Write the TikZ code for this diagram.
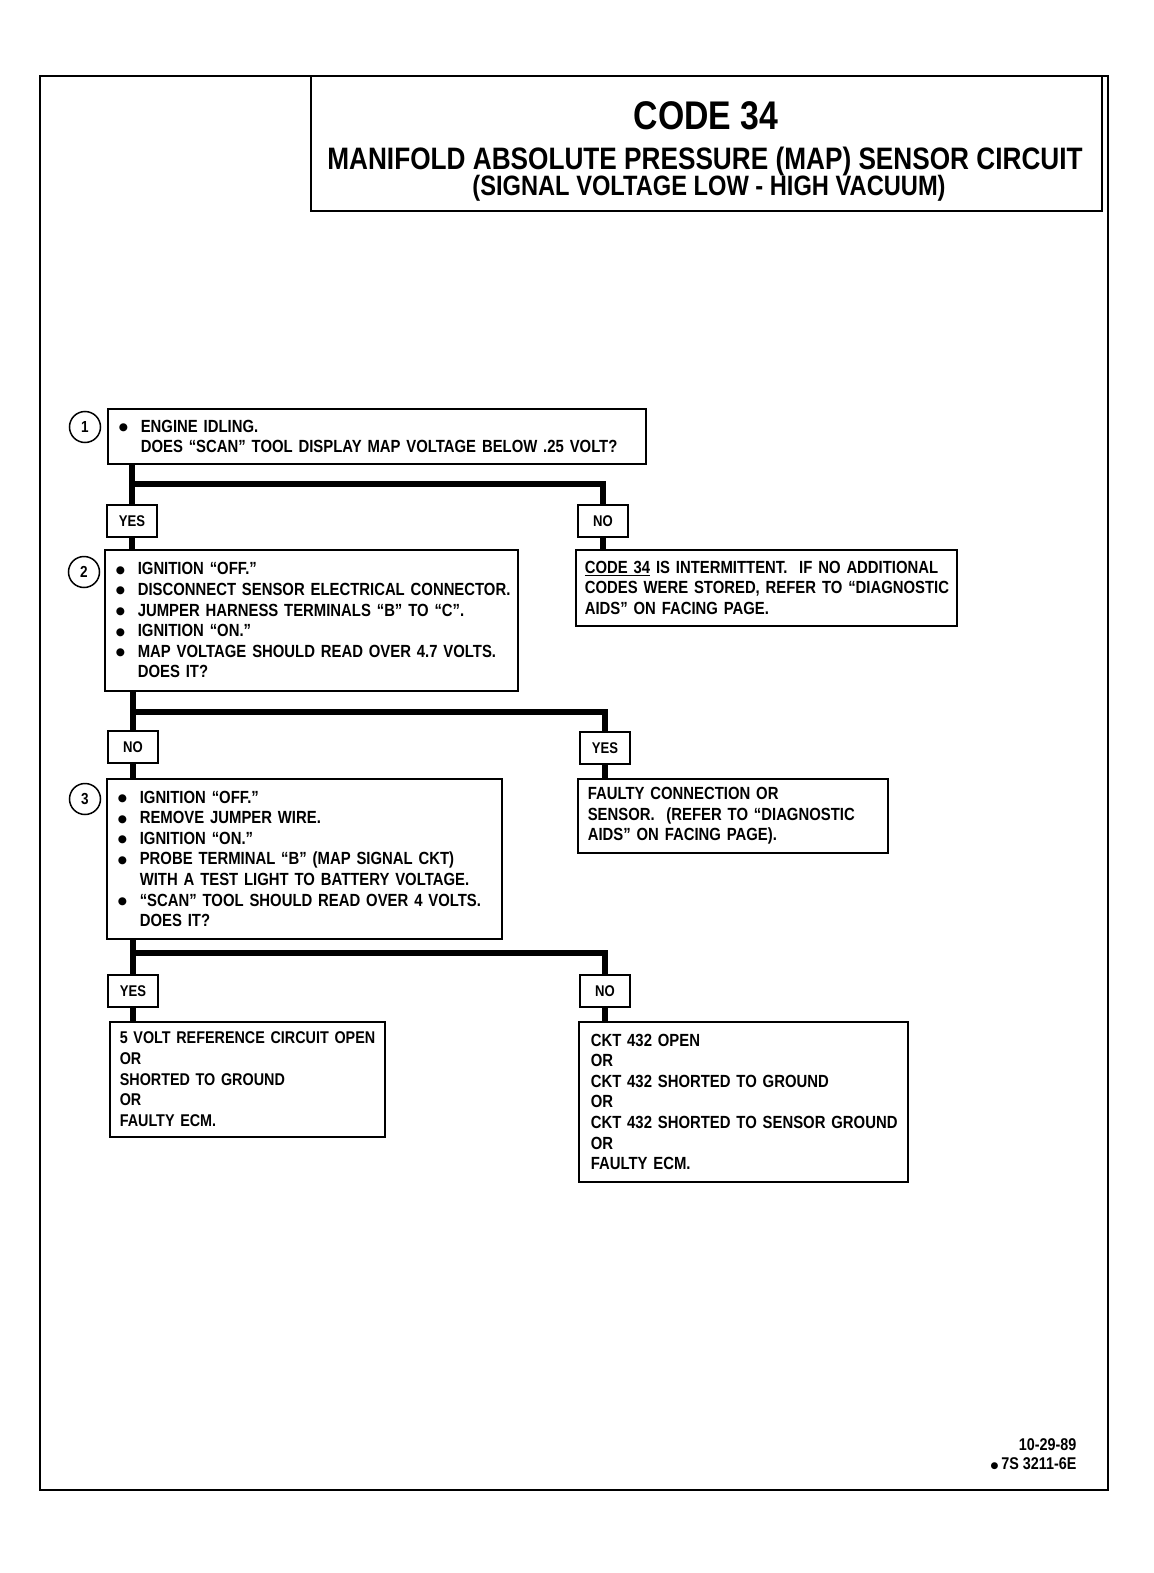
\documentclass[tikz,border=0pt]{standalone}
\usepackage{fontspec}
\setmainfont{Liberation Sans}[FakeStretch=0.845]
\newfontfamily\symfont{DejaVu Sans}
\newcommand{\bdot}{\raisebox{1.5pt}{\symfont\fontsize{10.5}{10.5}\selectfont ●}}
\newcommand{\bitem}[1]{\makebox[22pt][l]{\bdot}\mbox{#1}}
\newcommand{\bcont}[1]{\hspace*{22pt}\mbox{#1}}
\begin{document}
\begin{tikzpicture}[x=1pt,y=-1pt,
    box/.style={draw,line width=1.6pt,anchor=north west,align=left,inner xsep=11pt,inner ysep=0pt,
      font=\fontsize{17.6}{20.6}\selectfont\bfseries},
    lbl/.style={draw,line width=1.6pt,minimum width=50pt,minimum height=32pt,inner sep=0pt,
      font=\fontsize{15.5}{15.5}\selectfont\bfseries},
    num/.style={draw,circle,line width=1.5pt,minimum size=31pt,inner sep=0pt,
      font=\fontsize{16}{16}\selectfont\bfseries},
    trunk/.style={line width=6pt}]
    \useasboundingbox (0,0) rectangle (1153,1573);
    \draw [line width=2pt] (40,76) rectangle (1108,1490);
    %Title block
    \draw [line width=1.6pt] (311,76) -- (311,211) -- (1102,211) -- (1102,76);
    \node [font=\fontsize{40}{40}\selectfont\bfseries] (code) at (706,116) {CODE 34};
    \node [font=\fontsize{31}{31}\selectfont\bfseries] (name) at (705,161) {MANIFOLD ABSOLUTE PRESSURE (MAP) SENSOR CIRCUIT};
    \node [font=\fontsize{28}{28}\selectfont\bfseries] (cond) at (709,188) {(SIGNAL VOLTAGE LOW - HIGH VACUUM)};

    %Step 1
    \node [box,text width=516pt,minimum height=55pt] (q1) at (107,408)
      {\bitem{ENGINE IDLING.}\\ \bcont{DOES “SCAN” TOOL DISPLAY MAP VOLTAGE BELOW .25 VOLT?}};
    \node [num] (c1) at (85,427) {1};
    \node [lbl] (yes1) at (132,521) {YES};
    \node [lbl] (no1) at (603,521) {NO};
    \node [box,text width=391pt,minimum height=141pt] (q2) at (104,549)
      {\bitem{IGNITION “OFF.”}\\
       \bitem{DISCONNECT SENSOR ELECTRICAL CONNECTOR.}\\
       \bitem{JUMPER HARNESS TERMINALS “B” TO “C”.}\\
       \bitem{IGNITION “ON.”}\\
       \bitem{MAP VOLTAGE SHOULD READ OVER 4.7 VOLTS.}\\
       \bcont{DOES IT?}};
    \node [num] (c2) at (84,572) {2};
    \node [box,text width=363pt,minimum height=76pt,inner xsep=9pt] (a1) at (575,549)
      {\mbox{\underline{CODE 34} IS INTERMITTENT.\ \ IF NO ADDITIONAL}\\
       \mbox{CODES WERE STORED, REFER TO “DIAGNOSTIC}\\
       \mbox{AIDS” ON FACING PAGE.}};
    \coordinate (s1) at (132,484);
    \draw [trunk] (yes1.north |- q1.south) -- (yes1.north);
    \draw [trunk] (s1) -| (no1.north);
    \draw [trunk] (yes1.south) -- (yes1.south |- q2.north);
    \draw [trunk] (no1.south) -- (no1.south |- a1.north);

    %Step 2
    \node [lbl] (no2) at (133,747) {NO};
    \node [lbl] (yes2) at (605,748) {YES};
    \node [box,text width=373pt,minimum height=160pt] (q3) at (106,778)
      {\bitem{IGNITION “OFF.”}\\
       \bitem{REMOVE JUMPER WIRE.}\\
       \bitem{IGNITION “ON.”}\\
       \bitem{PROBE TERMINAL “B” (MAP SIGNAL CKT)}\\
       \bcont{WITH A TEST LIGHT TO BATTERY VOLTAGE.}\\
       \bitem{“SCAN” TOOL SHOULD READ OVER 4 VOLTS.}\\
       \bcont{DOES IT?}};
    \node [num] (c3) at (85,799) {3};
    \node [box,text width=290pt,minimum height=74pt,inner xsep=10pt] (a2) at (577,778)
      {\mbox{FAULTY CONNECTION OR}\\
       \mbox{SENSOR.\ \ (REFER TO “DIAGNOSTIC}\\
       \mbox{AIDS” ON FACING PAGE).}};
    \coordinate (s2) at (133,712);
    \draw [trunk] (no2.north |- q2.south) -- (no2.north);
    \draw [trunk] (s2) -| (yes2.north);
    \draw [trunk] (no2.south) -- (no2.south |- q3.north);
    \draw [trunk] (yes2.south) -- (yes2.south |- a2.north);

    %Step 3
    \node [lbl] (yes3) at (133,991) {YES};
    \node [lbl] (no3) at (605,991) {NO};
    \node [box,text width=255pt,minimum height=115pt,inner xsep=10pt,
      font=\fontsize{17}{20.6}\selectfont\bfseries] (a3) at (109,1021)
      {\mbox{5 VOLT REFERENCE CIRCUIT OPEN}\\ OR\\ \mbox{SHORTED TO GROUND}\\ OR\\ \mbox{FAULTY ECM.}};
    \node [box,text width=305pt,minimum height=160pt,inner xsep=12pt] (a4) at (578,1021)
      {\mbox{CKT 432 OPEN}\\ OR\\ \mbox{CKT 432 SHORTED TO GROUND}\\ OR\\
       \mbox{CKT 432 SHORTED TO SENSOR GROUND}\\ OR\\ \mbox{FAULTY ECM.}};
    \coordinate (s3) at (133,953);
    \draw [trunk] (yes3.north |- q3.south) -- (yes3.north);
    \draw [trunk] (s3) -| (no3.north);
    \draw [trunk] (yes3.south) -- (yes3.south |- a3.north);
    \draw [trunk] (no3.south) -- (no3.south |- a4.north);

    \node [anchor=east,font=\fontsize{17}{17}\selectfont\bfseries] (date) at (1080,1445) {10-29-89};
    \node [anchor=east,font=\fontsize{17}{17}\selectfont\bfseries] (ref) at (1080,1464)
      {\raisebox{1pt}{\symfont\fontsize{9}{9}\selectfont ●}\,7S 3211-6E};
\end{tikzpicture}
\end{document}
